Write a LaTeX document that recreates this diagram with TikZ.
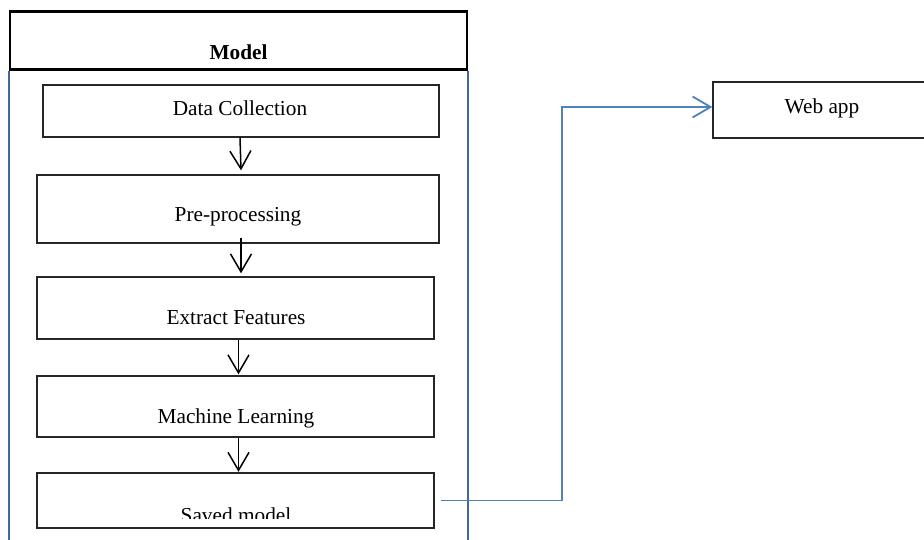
\documentclass[tikz,border=0pt]{standalone}
\usepackage{fontspec}
\setmainfont{Liberation Serif}
\usetikzlibrary{arrows.meta}
\definecolor{sideblue}{RGB}{65,105,155}
\definecolor{connblue}{RGB}{79,129,189}
\begin{document}
\begin{tikzpicture}[x=1pt,y=-1pt,
  box/.style={draw=black!85,line width=1.3pt,rectangle,inner sep=0pt,minimum width=#1,minimum height=1pt},
  lbl/.style={anchor=base,inner sep=0pt,font=\fontsize{21.3}{24}\selectfont},
  flow/.style={draw=black,line width=1.5pt,-{Straight Barb[length=18pt,width=21pt,line width=1.5pt]}},
  conn/.style={draw=connblue,line width=1.8pt,-{Straight Barb[length=18pt,width=21pt,line width=1.8pt]}}]
\useasboundingbox (0,0) rectangle (924,540);
% container
\node[draw=black,line width=2.2pt,minimum width=457pt,minimum height=58pt,inner sep=0pt] (hdr) at (238.5,40.5) {};
\node[lbl,font=\fontsize{21.3}{24}\selectfont\bfseries] (hdrt) at (238.5,60) {Model};
\draw[sideblue,line width=2.2pt] (hdr.south west) -- ++(0,472);
\draw[sideblue,line width=2.2pt] (hdr.south east) -- ++(0,472);
% boxes
\node[box=396pt,minimum height=52pt] (dc) at (241,111) {};
\node[lbl] (dct) at (240,116) {Data Collection};
\node[box=402pt,minimum height=68pt] (pp) at (238,209) {};
\node[lbl] (ppt) at (238,222) {Pre-processing};
\node[box=397pt,minimum height=62pt] (ef) at (235.5,308) {};
\node[lbl] (eft) at (236,324) {Extract Features};
\node[box=397pt,minimum height=61pt] (ml) at (235.5,406.5) {};
\node[lbl] (mlt) at (236,423) {Machine Learning};
\node[box=397pt,minimum height=55pt] (sm) at (235.5,500.5) {};
\begin{scope}
\clip (40,475) rectangle (430,518.5);
\node[lbl] (smt) at (236,522) {Saved model};
\end{scope}
\node[box=220pt,minimum height=56pt] (web) at (823,110) {};
\node[lbl] (webt) at (822,113.3) {Web app};
% flow arrows
\draw[flow] ([xshift=-1pt]dc.south) -- ([xshift=3pt,yshift=4pt]pp.north);
\draw[flow] ([xshift=3pt,yshift=6pt]pp.south) -- ([xshift=5.5pt,yshift=3pt]ef.north);
\draw[flow] ([xshift=3pt]ef.south) -- ([xshift=3pt,yshift=1pt]ml.north);
\draw[flow] ([xshift=3pt]ml.south) -- ([xshift=3pt,yshift=0.5pt]sm.north);
% connector to web app
\coordinate (c2) at (562,107);
\draw[conn] ([xshift=6pt]sm.east) -| (c2) -- (web.west |- c2);
\end{tikzpicture}
\end{document}
